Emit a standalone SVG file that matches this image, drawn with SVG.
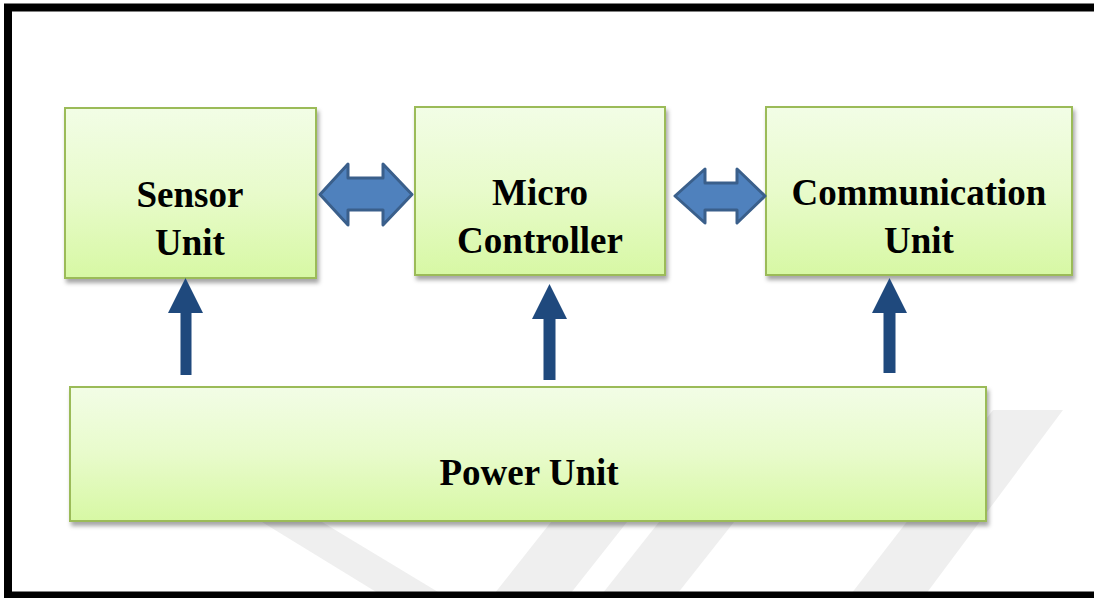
<svg xmlns="http://www.w3.org/2000/svg" width="1094" height="598" viewBox="0 0 1094 598">
  <defs>
    <linearGradient id="boxFill" x1="0" y1="0" x2="0" y2="1">
      <stop offset="0" stop-color="#F2FDE6"/>
      <stop offset="0.5" stop-color="#E8FBCB"/>
      <stop offset="1" stop-color="#D7F8A4"/>
    </linearGradient>
    <filter id="shadow" x="-5%" y="-5%" width="115%" height="120%">
      <feDropShadow dx="2" dy="4" stdDeviation="2.2" flood-color="#000" flood-opacity="0.35"/>
    </filter>
    <style>
      .box { fill: url(#boxFill); stroke: #9BBB59; stroke-width: 2; filter: url(#shadow); }
      .label { font-family: "Liberation Serif", "Times New Roman", serif; font-weight: bold; font-size: 37px; fill: #000; text-anchor: middle; }
      .dbl { fill: #4F81BD; stroke: #3A5F8B; stroke-width: 3; stroke-linejoin: round; }
      .up { fill: #1F497D; }
      .mark { fill: #EFEFEF; }
    </style>
  </defs>

  <rect x="0" y="0" width="1094" height="598" fill="#FFFFFF"/>

  <!-- faint background logo -->
  <g id="watermark">
    <polygon class="mark" points="262,522 322,522 448,598 386,598"/>
    <polygon class="mark" points="551,522 627,522 567,598 491,598"/>
    <polygon class="mark" points="659,522 734,522 674,598 599,598"/>
    <polygon class="mark" points="993,410 1063,410 923,598 848,598"/>
  </g>

  <!-- outer frame -->
  <rect x="8" y="7.5" width="1100" height="588" fill="none" stroke="#000" stroke-width="8"/>

  <g id="sensor-unit">
    <rect class="box" x="65" y="108" width="251" height="170"/>
    <text class="label" x="190" y="207">Sensor</text>
    <text class="label" x="190" y="255">Unit</text>
  </g>

  <g id="micro-controller">
    <rect class="box" x="415" y="107" width="250" height="168"/>
    <text class="label" x="540" y="205">Micro</text>
    <text class="label" x="540" y="253">Controller</text>
  </g>

  <g id="communication-unit">
    <rect class="box" x="766" y="107" width="306" height="168"/>
    <text class="label" x="919" y="205">Communication</text>
    <text class="label" x="919" y="253">Unit</text>
  </g>

  <g id="power-unit">
    <rect class="box" x="70" y="387" width="916" height="134"/>
    <text class="label" x="529" y="485">Power Unit</text>
  </g>

  <g id="connectors">
    <!-- data links between units -->
    <polygon class="dbl" points="320,194.5 348,164 348,178 383,178 383,164 412,194.5 383,225 383,210 348,210 348,225"/>
    <polygon class="dbl" points="675,196 705,169 705,183 737,183 737,169 765,196 737,223 737,210 705,210 705,223"/>
    <!-- power feeds -->
    <polygon class="up" points="185.5,278 203,313 191.5,313 191.5,375 180.5,375 180.5,313 168,313"/>
    <polygon class="up" points="549.5,284 567,319 555.5,319 555.5,380 543.5,380 543.5,319 532,319"/>
    <polygon class="up" points="889.5,278 907,313 895.5,313 895.5,373 883.5,373 883.5,313 872,313"/>
  </g>
</svg>
